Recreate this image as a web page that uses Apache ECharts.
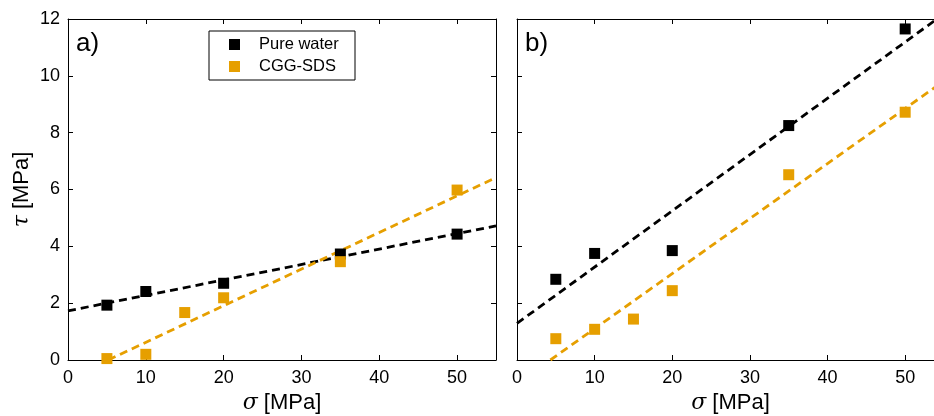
<!DOCTYPE html>
<html><head><meta charset="utf-8">
<script src="https://cdn.jsdelivr.net/npm/echarts@6/dist/echarts.min.js"></script>
<style>html,body{margin:0;padding:0;background:#fff}#c{width:934px;height:416px}</style>
</head><body><div id="c"></div>
<script>
// ---- data ----
const xTicks = [0, 10, 20, 30, 40, 50];
const yTicks = [0, 2, 4, 6, 8, 10, 12];
// Panel a)
const aWaterX = [5, 10, 20, 35, 50];
const aWaterY = [1.93, 2.41, 2.70, 3.73, 4.43];
const aSdsX = [5, 10, 15, 20, 35, 50];
const aSdsY = [0.05, 0.20, 1.67, 2.19, 3.46, 5.98];
const aWaterFitX = [0, 55];
const aWaterFitY = [1.73, 4.72];
const aSdsFitX = [5.17, 55];
const aSdsFitY = [0, 6.42];
// Panel b)
const bWaterX = [5, 10, 20, 35, 50];
const bWaterY = [2.84, 3.75, 3.85, 8.25, 11.65];
const bSdsX = [5, 10, 15, 20, 35, 50];
const bSdsY = [0.75, 1.08, 1.44, 2.44, 6.52, 8.72];
const bWaterFitX = [0, 55];
const bWaterFitY = [1.29, 12.18];
const bSdsFitX = [4.3, 55];
const bSdsFitY = [0, 9.82];

const seriesNames = ['Pure water', 'CGG-SDS'];
const colWater = '#000000', colSds = '#E69F00';

const FONT = '"Liberation Sans", Arial, sans-serif';
const zip = (xs, ys) => xs.map((x, i) => [x, ys[i]]);

const nameStyle = { color: '#000', fontSize: 22, fontFamily: FONT,
  rich: { s: { fontStyle: 'italic', fontSize: 22, fontFamily: 'DejaVu Serif', color: '#000' } } };

function xAx(gi, pos, showLabel, name) {
  return {
    type: 'value', gridIndex: gi, position: pos, min: 0, max: 55, interval: 10,
    axisLine: { show: true, onZero: false, lineStyle: { color: '#000', width: 1 } },
    axisTick: { show: true, inside: true, length: 5, lineStyle: { color: '#000' }, customValues: xTicks },
    axisLabel: { show: showLabel, color: '#000', fontSize: 18, fontFamily: FONT, margin: 9,
      customValues: xTicks },
    splitLine: { show: false },
    name: name || '', nameLocation: 'middle', nameGap: 31, nameTextStyle: nameStyle
  };
}
function yAx(gi, pos, showLabel, name) {
  return {
    type: 'value', gridIndex: gi, position: pos, min: 0, max: 12, interval: 2,
    axisLine: { show: true, onZero: false, lineStyle: { color: '#000', width: 1 } },
    axisTick: { show: true, inside: true, length: 5, lineStyle: { color: '#000' }, customValues: yTicks },
    axisLabel: { show: showLabel, color: '#000', fontSize: 18, fontFamily: FONT, margin: 8, customValues: yTicks },
    splitLine: { show: false },
    name: name || '', nameLocation: 'middle', nameGap: 35, nameRotate: 90, nameTextStyle: nameStyle
  };
}

function scatter(name, xi, yi, data, color) {
  return { name: name, type: 'scatter', xAxisIndex: xi, yAxisIndex: yi, data: data,
    symbol: 'rect', symbolSize: 11, itemStyle: { color: color, opacity: 1 }, z: 3 };
}
function fit(xi, yi, data, color) {
  return { name: 'fit', type: 'line', xAxisIndex: xi, yAxisIndex: yi, data: data,
    showSymbol: false, symbol: 'none', clip: true, silent: true,
    lineStyle: { color: color, width: 2.8, type: [8, 5] }, z: 2 };
}

const chart = echarts.init(document.getElementById('c'), null, { renderer: 'canvas' });
chart.setOption({
  animation: false,
  backgroundColor: '#fff',
  grid: [
    { left: 68, top: 19, width: 428, height: 341, containLabel: false, outerBoundsMode: 'none' },
    { left: 517, top: 19, width: 427, height: 341, containLabel: false, outerBoundsMode: 'none' }
  ],
  xAxis: [
    xAx(0, 'bottom', true, '{s|σ} [MPa]'),
    xAx(0, 'top', false),
    xAx(1, 'bottom', true, '{s|σ} [MPa]'),
    xAx(1, 'top', false)
  ],
  yAxis: [
    yAx(0, 'left', true, '{s|τ} [MPa]'),
    yAx(0, 'right', false),
    yAx(1, 'left', false),
    yAx(1, 'right', false)
  ],
  legend: {
    data: seriesNames, orient: 'vertical', left: 209, top: 31,
    itemWidth: 11, itemHeight: 11, itemGap: 5,
    padding: [5, 16, 5, 20], borderColor: '#000', borderWidth: 1, borderRadius: 0,
    backgroundColor: '#fff', selectedMode: false,
    textStyle: { color: '#000', fontSize: 16.5, fontFamily: FONT,
      padding: [0, 0, 0, 14], width: 80, lineHeight: 16 }
  },
  graphic: [
    { type: 'text', left: 76, top: 31, style: { text: 'a)', fontSize: 26, fontFamily: FONT, fill: '#000' } },
    { type: 'text', left: 525, top: 31, style: { text: 'b)', fontSize: 26, fontFamily: FONT, fill: '#000' } }
  ],
  series: [
    fit(0, 0, zip(aWaterFitX, aWaterFitY), colWater),
    fit(0, 0, zip(aSdsFitX, aSdsFitY), colSds),
    scatter(seriesNames[0], 0, 0, zip(aWaterX, aWaterY), colWater),
    scatter(seriesNames[1], 0, 0, zip(aSdsX, aSdsY), colSds),
    fit(2, 2, zip(bWaterFitX, bWaterFitY), colWater),
    fit(2, 2, zip(bSdsFitX, bSdsFitY), colSds),
    scatter(seriesNames[0], 2, 2, zip(bWaterX, bWaterY), colWater),
    scatter(seriesNames[1], 2, 2, zip(bSdsX, bSdsY), colSds)
  ]
});
</script>
</body></html>
